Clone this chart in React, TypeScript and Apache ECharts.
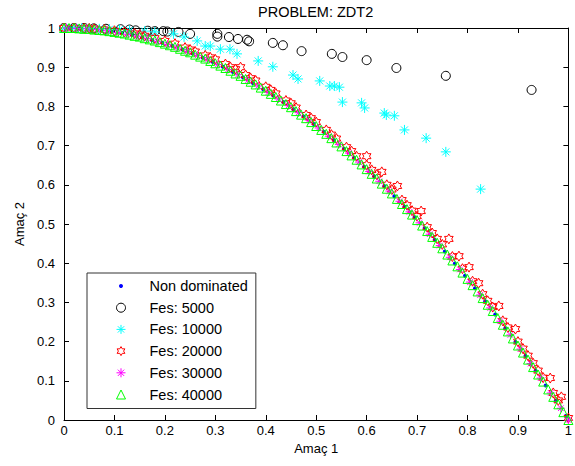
import React, { useEffect, useRef } from 'react';
import * as echarts from 'echarts';

const titleText = 'PROBLEM: ZDT2';
const xName = 'Amaç 1';
const yName = 'Amaç 2';
const seriesNames = ['Non dominated', 'Fes: 5000', 'Fes: 10000', 'Fes: 20000', 'Fes: 30000', 'Fes: 40000'];

const nonDominated: number[][] = [
  [0.015, 1.0], [0.035, 0.999], [0.055, 0.997], [0.075, 0.994], [0.095, 0.991], [0.115, 0.987], [0.135, 0.982],
  [0.155, 0.976], [0.175, 0.969], [0.195, 0.962], [0.215, 0.954], [0.235, 0.945], [0.255, 0.935], [0.275, 0.924],
  [0.295, 0.913], [0.315, 0.901], [0.335, 0.888], [0.355, 0.874], [0.375, 0.859], [0.395, 0.844], [0.415, 0.828],
  [0.435, 0.811], [0.455, 0.793], [0.475, 0.774], [0.495, 0.755], [0.515, 0.735], [0.535, 0.714], [0.555, 0.692],
  [0.575, 0.669], [0.595, 0.646], [0.615, 0.622], [0.635, 0.597], [0.655, 0.571], [0.675, 0.544], [0.695, 0.517],
  [0.715, 0.489], [0.735, 0.46], [0.755, 0.43], [0.775, 0.399], [0.795, 0.368], [0.815, 0.336], [0.835, 0.303],
  [0.855, 0.269], [0.875, 0.234], [0.895, 0.199], [0.915, 0.163], [0.935, 0.126], [0.955, 0.088], [0.975, 0.049],
  [0.995, 0.01],
];

const fes5000: number[][] = [
  [0.0, 1.0], [0.02, 1.0], [0.04, 1.0], [0.059, 0.999], [0.083, 0.998], [0.112, 0.997], [0.13, 0.996],
  [0.142, 0.994], [0.166, 0.993], [0.18, 0.992], [0.197, 0.992], [0.205, 0.991], [0.227, 0.99], [0.25, 0.985],
  [0.304, 0.985], [0.304, 0.978], [0.327, 0.977], [0.345, 0.972], [0.363, 0.97], [0.367, 0.966], [0.414, 0.962],
  [0.434, 0.956], [0.471, 0.941], [0.531, 0.934], [0.552, 0.926], [0.6, 0.918], [0.659, 0.898], [0.757, 0.878],
  [0.927, 0.842],
];

const fes10000: number[][] = [
  [0.0, 1.0], [0.02, 1.0], [0.035, 0.999], [0.05, 0.999], [0.07, 0.998], [0.09, 0.997], [0.11, 0.996],
  [0.13, 0.994], [0.16, 0.992], [0.18, 0.99], [0.217, 0.985], [0.238, 0.977], [0.264, 0.967], [0.28, 0.954],
  [0.29, 0.954], [0.31, 0.946], [0.329, 0.946], [0.343, 0.934], [0.385, 0.916], [0.414, 0.901], [0.454, 0.88],
  [0.464, 0.87], [0.507, 0.865], [0.527, 0.852], [0.536, 0.852], [0.546, 0.849], [0.552, 0.811], [0.59, 0.809],
  [0.596, 0.796], [0.635, 0.783], [0.639, 0.778], [0.655, 0.776], [0.675, 0.74], [0.718, 0.719], [0.757, 0.684],
  [0.826, 0.589],
];

const fes20000: number[][] = [
  [0, 1], [0.02, 1], [0.04, 0.999], [0.05, 0.999], [0.06, 0.998], [0.08, 0.996], [0.1, 0.993], [0.12, 0.99],
  [0.14, 0.986], [0.15, 0.983], [0.16, 0.98], [0.18, 0.974], [0.2, 0.967], [0.22, 0.96], [0.24, 0.95],
  [0.25, 0.945], [0.26, 0.94], [0.28, 0.93], [0.29, 0.925], [0.3, 0.92], [0.32, 0.908], [0.33, 0.9],
  [0.34, 0.895], [0.35, 0.9], [0.36, 0.88], [0.37, 0.872], [0.38, 0.866], [0.4, 0.85], [0.41, 0.842],
  [0.42, 0.833], [0.44, 0.815], [0.45, 0.808], [0.46, 0.797], [0.48, 0.778], [0.49, 0.77], [0.5, 0.76],
  [0.52, 0.74], [0.53, 0.728], [0.54, 0.718], [0.56, 0.696], [0.57, 0.686], [0.58, 0.673], [0.6, 0.65],
  [0.6, 0.673], [0.61, 0.638], [0.62, 0.626], [0.63, 0.633], [0.64, 0.6], [0.65, 0.588], [0.661, 0.597],
  [0.67, 0.561], [0.68, 0.548], [0.69, 0.534], [0.7, 0.52], [0.708, 0.533], [0.72, 0.492], [0.73, 0.477],
  [0.74, 0.462], [0.75, 0.448], [0.763, 0.462], [0.77, 0.417], [0.783, 0.418], [0.79, 0.386], [0.803, 0.39],
  [0.81, 0.354], [0.822, 0.349], [0.83, 0.321], [0.84, 0.304], [0.85, 0.288], [0.862, 0.291], [0.87, 0.253],
  [0.88, 0.236], [0.895, 0.232], [0.9, 0.2], [0.91, 0.182], [0.92, 0.164], [0.93, 0.145], [0.94, 0.126],
  [0.95, 0.108], [0.964, 0.107], [0.97, 0.069], [0.98, 0.05], [0.986, 0.059], [1, 0.005],
];

const fes30000: number[][] = [
  [0.005, 1.0], [0.025, 0.999], [0.045, 0.998], [0.065, 0.996], [0.085, 0.993], [0.105, 0.989], [0.125, 0.984],
  [0.145, 0.979], [0.165, 0.973], [0.185, 0.966], [0.205, 0.958], [0.225, 0.949], [0.245, 0.94], [0.265, 0.93],
  [0.285, 0.919], [0.305, 0.907], [0.325, 0.894], [0.345, 0.881], [0.365, 0.867], [0.385, 0.852], [0.405, 0.836],
  [0.425, 0.819], [0.445, 0.802], [0.465, 0.784], [0.485, 0.765], [0.505, 0.745], [0.525, 0.724], [0.545, 0.703],
  [0.565, 0.681], [0.585, 0.658], [0.605, 0.634], [0.625, 0.609], [0.645, 0.584], [0.665, 0.558], [0.685, 0.531],
  [0.705, 0.503], [0.725, 0.474], [0.745, 0.445], [0.765, 0.415], [0.785, 0.384], [0.805, 0.352], [0.825, 0.319],
  [0.845, 0.286], [0.865, 0.252], [0.885, 0.217], [0.905, 0.181], [0.925, 0.144], [0.945, 0.107], [0.965, 0.069],
  [0.985, 0.03], [1.0, 0.0],
];

const fes40000: number[][] = [
  [0, 1], [0.01, 1], [0.02, 1], [0.03, 0.999], [0.04, 0.998], [0.05, 0.998], [0.06, 0.996], [0.07, 0.995],
  [0.08, 0.994], [0.09, 0.992], [0.1, 0.99], [0.11, 0.988], [0.12, 0.986], [0.13, 0.983], [0.14, 0.98],
  [0.15, 0.978], [0.16, 0.974], [0.17, 0.971], [0.18, 0.968], [0.19, 0.964], [0.2, 0.96], [0.21, 0.956],
  [0.22, 0.952], [0.23, 0.947], [0.24, 0.942], [0.25, 0.938], [0.26, 0.932], [0.27, 0.927], [0.28, 0.922],
  [0.29, 0.916], [0.3, 0.91], [0.31, 0.904], [0.32, 0.898], [0.33, 0.891], [0.34, 0.884], [0.35, 0.878],
  [0.36, 0.87], [0.37, 0.863], [0.38, 0.856], [0.39, 0.848], [0.4, 0.84], [0.41, 0.832], [0.42, 0.824],
  [0.43, 0.815], [0.44, 0.806], [0.45, 0.798], [0.46, 0.788], [0.47, 0.779], [0.48, 0.77], [0.49, 0.76],
  [0.5, 0.75], [0.51, 0.74], [0.52, 0.73], [0.53, 0.719], [0.54, 0.708], [0.55, 0.698], [0.56, 0.686],
  [0.57, 0.675], [0.58, 0.664], [0.59, 0.652], [0.6, 0.64], [0.61, 0.628], [0.62, 0.616], [0.63, 0.603],
  [0.64, 0.59], [0.65, 0.578], [0.66, 0.564], [0.67, 0.551], [0.68, 0.538], [0.69, 0.524], [0.7, 0.51],
  [0.71, 0.496], [0.72, 0.482], [0.73, 0.467], [0.74, 0.452], [0.75, 0.438], [0.76, 0.422], [0.77, 0.407],
  [0.78, 0.392], [0.79, 0.376], [0.8, 0.36], [0.81, 0.344], [0.82, 0.328], [0.83, 0.311], [0.84, 0.294],
  [0.85, 0.278], [0.86, 0.26], [0.87, 0.243], [0.88, 0.226], [0.89, 0.208], [0.9, 0.19], [0.91, 0.172],
  [0.92, 0.154], [0.93, 0.135], [0.94, 0.116], [0.95, 0.098], [0.96, 0.078], [0.97, 0.059], [0.98, 0.04],
  [0.99, 0.02], [1, 0],
];

const FONT = "'Liberation Sans', Arial, Helvetica, sans-serif";
const ASTERISK = 'path://M0,-5L0,5M-5,0L5,0M-3.5,-3.5L3.5,3.5M-3.5,3.5L3.5,-3.5';
const HEXAGRAM =
  'path://M0,-10L2.887,-5L8.66,-5L5.774,0L8.66,5L2.887,5L0,10L-2.887,5L-8.66,5L-5.774,0L-8.66,-5L-2.887,-5Z';

function scatter(name: string, data: number[][], symbol: string, size: number, color: string, hollow: boolean) {
  return {
    type: 'scatter',
    name,
    data,
    symbol,
    symbolSize: size,
    symbolKeepAspect: true,
    clip: false,
    silent: true,
    itemStyle: hollow
      ? { color: 'rgba(0,0,0,0)', borderColor: color, borderWidth: 1, opacity: 1 }
      : { color, borderWidth: 0, opacity: 1 },
    emphasis: { disabled: true },
  };
}

function axisCommon() {
  return {
    type: 'value',
    min: 0,
    max: 1,
    interval: 0.1,
    axisLine: { show: true, onZero: false, lineStyle: { color: '#000', width: 1 } },
    axisTick: { show: true, inside: true, length: 5, lineStyle: { color: '#000', width: 1 } },
    splitLine: { show: false },
  };
}

export default function App() {
  const ref = useRef<HTMLDivElement>(null);
  useEffect(() => {
    document.body.style.margin = '0';
    if (!ref.current) return;
    const chart = echarts.init(ref.current, undefined, { renderer: 'svg' });
    const labelStyle = { color: '#000', fontSize: 13, fontFamily: FONT };
    const legendHollow = (color: string) => ({ color: 'rgba(0,0,0,0)', borderColor: color, borderWidth: 1 });
    chart.setOption({
      animation: false,
      backgroundColor: '#fff',
      title: {
        text: titleText,
        left: 258,
        top: 4,
        padding: 0,
        textStyle: { color: '#000', fontSize: 14.5, fontWeight: 'normal', fontFamily: FONT },
      },
      grid: { left: 64, right: 5, top: 28, bottom: 46, containLabel: false },
      xAxis: [
        {
          ...axisCommon(),
          position: 'bottom',
          axisLabel: { ...labelStyle, margin: 4 },
          name: xName,
          nameLocation: 'middle',
          nameGap: 20,
          nameTextStyle: labelStyle,
        },
        { ...axisCommon(), position: 'top', axisLabel: { show: false } },
      ],
      yAxis: [
        {
          ...axisCommon(),
          position: 'left',
          axisLabel: { ...labelStyle, margin: 9 },
          name: yName,
          nameLocation: 'middle',
          nameGap: 35,
          nameTextStyle: labelStyle,
        },
        { ...axisCommon(), position: 'right', axisLabel: { show: false } },
      ],
      legend: {
        left: 87,
        top: 273,
        orient: 'vertical',
        backgroundColor: '#fff',
        borderColor: '#333',
        borderWidth: 1,
        padding: [5, 8, 6, 27],
        itemWidth: 9,
        itemHeight: 9,
        itemGap: 5.7,
        selectedMode: false,
        textStyle: { color: '#000', fontSize: 14.5, fontFamily: FONT, lineHeight: 16, padding: [0, 0, 0, 19] },
        data: [
          { name: seriesNames[0], itemStyle: { color: '#0000ff', borderColor: '#fff', borderWidth: 5 } },
          { name: seriesNames[1], itemStyle: legendHollow('#000000') },
          { name: seriesNames[2], itemStyle: legendHollow('#00ffff') },
          { name: seriesNames[3], itemStyle: legendHollow('#ff0000') },
          { name: seriesNames[4], itemStyle: legendHollow('#ff00ff') },
          { name: seriesNames[5], itemStyle: legendHollow('#00ff00') },
        ],
      },
      series: [
        scatter(seriesNames[0], nonDominated, 'circle', 4, '#0000ff', false),
        scatter(seriesNames[1], fes5000, 'circle', 9, '#000000', true),
        scatter(seriesNames[2], fes10000, ASTERISK, 10, '#00ffff', true),
        scatter(seriesNames[3], fes20000, HEXAGRAM, 10, '#ff0000', true),
        scatter(seriesNames[4], fes30000, ASTERISK, 8, '#ff00ff', true),
        scatter(seriesNames[5], fes40000, 'triangle', 9, '#00ff00', true),
      ],
    });
    return () => chart.dispose();
  }, []);
  return <div ref={ref} style={{ width: 575, height: 466 }} />;
}
